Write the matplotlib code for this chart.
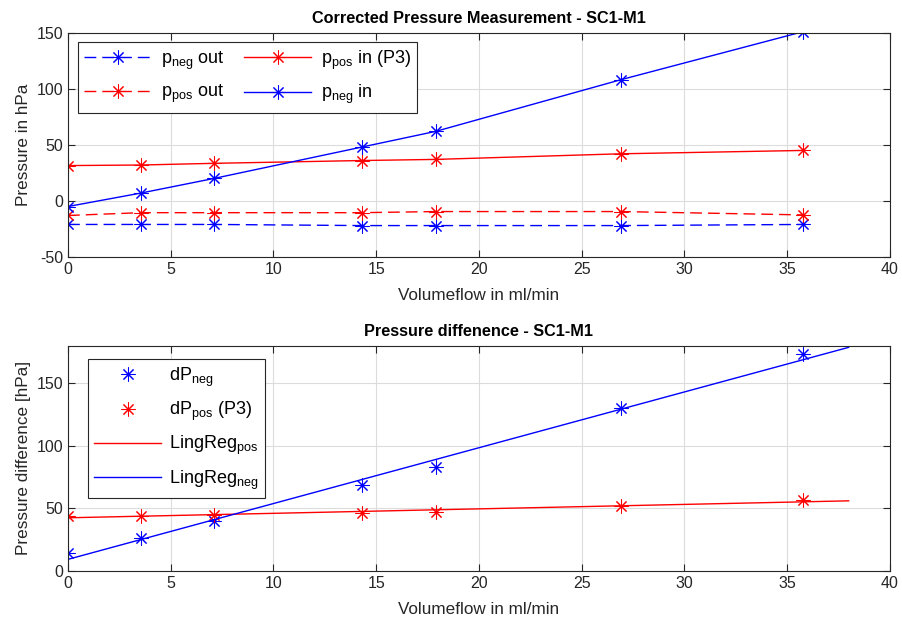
import numpy as np
import matplotlib.pyplot as plt

plt.rcParams['font.family'] = ['Liberation Sans', 'DejaVu Sans']
plt.rcParams['mathtext.fontset'] = 'custom'
plt.rcParams['mathtext.rm'] = 'Liberation Sans'
plt.rcParams['axes.unicode_minus'] = False

# volume flow in ml/min
flow = [0, 3.55, 7.1, 14.3, 17.9, 26.9, 35.8]

# corrected pressures in hPa
p_neg_out = [-21, -21, -21, -22, -22, -22, -21]
p_pos_out = [-13, -10.5, -10.5, -10.5, -9.5, -9.5, -12.5]
p_pos_in = [31.5, 32, 33.5, 36, 37, 42, 45]
p_neg_in = [-5, 7, 20, 48, 62, 108, 151]

# pressure differences in hPa
dp_neg = [14.5, 26, 40, 68.5, 83, 130, 173.5]
dp_pos = [44, 43.5, 45, 46.5, 47, 52, 56.5]
reg_range = [0, 38]

BLUE = '#0000ff'
RED = '#ff0000'
AX_COL = '#262626'
star = (8, 2, 0)


def style_axes(ax, ylim, yticks):
    ax.set_xlim(0, 40)
    ax.set_ylim(*ylim)
    ax.set_xticks(np.arange(0, 41, 5))
    ax.set_yticks(yticks)
    ax.grid(True, color='#dcdcdc', linewidth=0.8)
    ax.set_axisbelow(True)
    ax.tick_params(direction='in', top=True, right=True, length=5,
                   labelsize=11.5, colors=AX_COL, width=0.8)
    for s in ax.spines.values():
        s.set_color(AX_COL)
        s.set_linewidth(0.8)


fig = plt.figure(figsize=(9.02, 6.26), dpi=100)
ax1 = fig.add_axes([0.0754, 0.5895, 0.911, 0.3583])
ax2 = fig.add_axes([0.0754, 0.0883, 0.911, 0.359])

mk = dict(marker=star, markersize=10, markeredgewidth=0.75)
l1, = ax1.plot(flow, p_neg_out, '--', color=BLUE, lw=1.0, dashes=(8.5, 4.3), **mk)
l2, = ax1.plot(flow, p_pos_out, '--', color=RED, lw=1.0, dashes=(8.5, 4.3), **mk)
l3, = ax1.plot(flow, p_pos_in, '-', color=RED, lw=1.0, **mk)
l4, = ax1.plot(flow, p_neg_in, '-', color=BLUE, lw=1.0, **mk)
style_axes(ax1, (-50, 150), [-50, 0, 50, 100, 150])
ax1.set_title('Corrected Pressure Measurement - SC1-M1', fontsize=11.7,
              fontweight='bold', pad=7)
ax1.set_xlabel('Volumeflow in ml/min', fontsize=12.3, color=AX_COL, labelpad=8)
ax1.set_ylabel('Pressure in hPa', fontsize=12.3, color=AX_COL, labelpad=4)
leg1 = ax1.legend([l1, l2, l3, l4],
                  [r'p$_{\rm neg}$ out', r'p$_{\rm pos}$ out',
                   r'p$_{\rm pos}$ in (P3)', r'p$_{\rm neg}$ in'],
                  ncol=2, loc='upper left', bbox_to_anchor=(0.012, 0.9585),
                  fontsize=13, handlelength=3.7, labelspacing=0.65,
                  columnspacing=1.1, handletextpad=0.55, borderaxespad=0,
                  fancybox=False, framealpha=1, edgecolor=AX_COL,
                  borderpad=0.35)
leg1.get_frame().set_linewidth(0.8)

m1, = ax2.plot(flow, dp_neg, linestyle='none', color=BLUE, **mk)
m2, = ax2.plot(flow, dp_pos, linestyle='none', color=RED, **mk)
xr = np.array(reg_range)
c_pos = np.polyfit(flow, dp_pos, 1)
c_neg = np.polyfit(flow, dp_neg, 1)
r1, = ax2.plot(xr, np.polyval(c_pos, xr), '-', color=RED, lw=1.0)
r2, = ax2.plot(xr, np.polyval(c_neg, xr), '-', color=BLUE, lw=1.0)
style_axes(ax2, (0, 180), [0, 50, 100, 150])
ax2.set_title('Pressure diffenence - SC1-M1', fontsize=11.7,
              fontweight='bold', pad=7)
ax2.set_xlabel('Volumeflow in ml/min', fontsize=12.3, color=AX_COL, labelpad=8)
ax2.set_ylabel('Pressure difference [hPa]', fontsize=12.3, color=AX_COL,
               labelpad=4)
leg2 = ax2.legend([m1, m2, r1, r2],
                  [r'dP$_{\rm neg}$', r'dP$_{\rm pos}$ (P3)',
                   r'LingReg$_{\rm pos}$', r'LingReg$_{\rm neg}$'],
                  loc='upper left', bbox_to_anchor=(0.0243, 0.942),
                  fontsize=13, handlelength=3.7, labelspacing=0.62,
                  handletextpad=0.45, borderaxespad=0, fancybox=False,
                  framealpha=1, edgecolor=AX_COL, borderpad=0.35)
leg2.get_frame().set_linewidth(0.8)

fig.savefig('out.png', dpi=100)
